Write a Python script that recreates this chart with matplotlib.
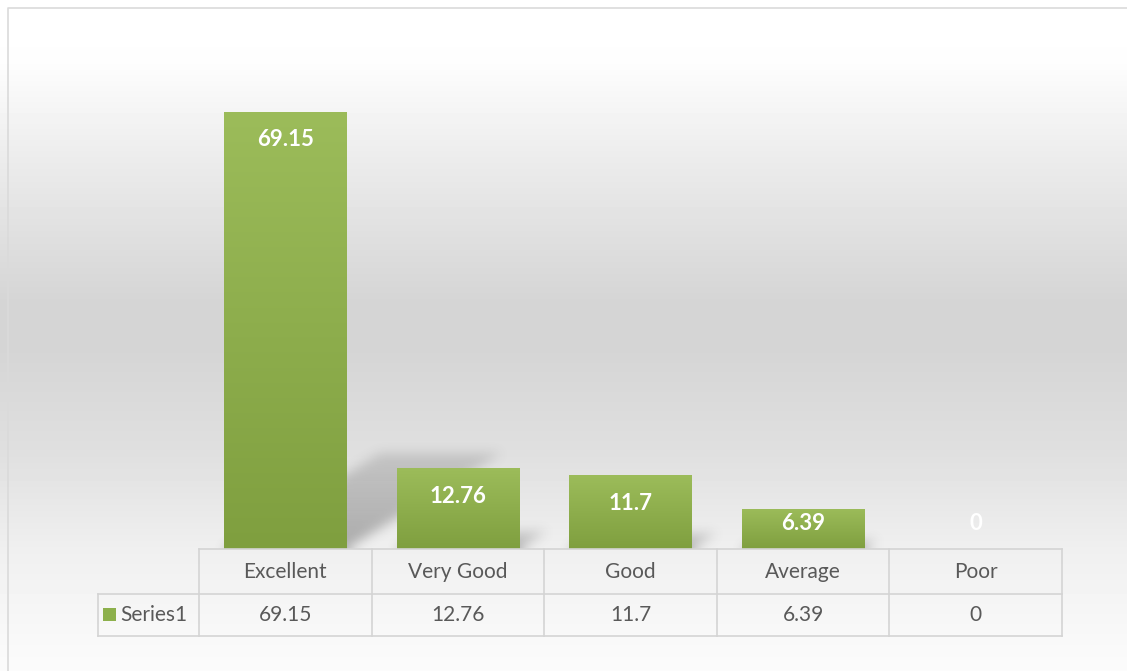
import numpy as np
import matplotlib.pyplot as plt
from matplotlib.colors import LinearSegmentedColormap
from matplotlib.patches import Rectangle
from matplotlib.transforms import blended_transform_factory

categories = ['Excellent', 'Very Good', 'Good', 'Average', 'Poor']
values = [69.15, 12.76, 11.7, 6.39, 0]
series_name = 'Series1'

W, H = 1127, 671
fig = plt.figure(figsize=(W / 100, H / 100), dpi=100)

# -- background gradient (whole figure)
bg = fig.add_axes([0, 0, 1, 1], zorder=0)
bg.set_xlim(0, W)
bg.set_ylim(H, 0)
bg.axis('off')
stops_y = np.array([0, 60, 150, 300, 350, 450, 550, 640, 671])
stops_v = np.array([1.0, 0.995, 0.93, 0.835, 0.835, 0.875, 0.94, 0.975, 0.985])
shade = np.interp(np.arange(H), stops_y, stops_v)
bg.imshow(np.repeat(shade[:, None], 2, axis=1), cmap='gray', vmin=0, vmax=1,
          extent=[0, W, H, 0], aspect='auto')
bg.plot([8, 8, W], [H, 8, 8], color='#dadada', lw=1.2)

# -- main plot area
left, right, base, ppu = 199, 1062, 549, 6.32
ymax = 80
top = base - ymax * ppu
ax = fig.add_axes([left / W, (H - base) / H, (right - left) / W, (base - top) / H], zorder=1)
ax.patch.set_alpha(0)
ax.set_xlim(-0.5, len(categories) - 0.5)
ax.set_ylim(0, ymax)
ax.axis('off')

bar_w = 0.707
col_px = (right - left) / len(categories)
green = LinearSegmentedColormap.from_list('g', ['#7f9f3f', '#9cbc5a'])
grad = np.linspace(0, 1, 256)[:, None]


def box_blur(a, r, axis):
    pad = [(0, 0), (0, 0)]
    pad[axis] = (r + 1, r)
    c = np.cumsum(np.pad(a, pad, mode='edge'), axis=axis)
    n = a.shape[axis]
    hi = np.take(c, np.arange(2 * r + 1, 2 * r + 1 + n), axis=axis)
    lo = np.take(c, np.arange(0, n), axis=axis)
    return (hi - lo) / (2 * r + 1)


# soft perspective shadows, rasterised in axes pixels
pw, ph_px = int(right - left), int(base - top)
xs = np.arange(pw)[None, :] + 0.5
ys = np.arange(ph_px)[:, None] + 0.5   # from baseline upwards
mask = np.zeros((ph_px, pw))
for i, v in enumerate(values):
    if v <= 0:
        continue
    hpx = v * ppu
    sh = 0.22 * hpx
    shift = 0.357 * hpx
    xl = (i + 0.5 - bar_w / 2) * col_px
    xr = (i + 0.5 + bar_w / 2) * col_px
    t = ys / sh
    inside = (t <= 1) & (xs >= xl + t * shift) & (xs <= xr + t * shift)
    mask = np.maximum(mask, inside * (1 - 0.55 * np.clip(t, 0, 1)))
for _ in range(3):
    mask = box_blur(mask, 5, 0)
    mask = box_blur(mask, 5, 1)
shadow = np.zeros((ph_px, pw, 4))
shadow[..., :3] = 0.3
shadow[..., 3] = 0.42 * mask
ax.imshow(shadow, extent=[-0.5, len(categories) - 0.5, 0, ph_px / ppu],
          origin='lower', aspect='auto', zorder=1, interpolation='bilinear')
ax.set_ylim(0, ymax)

for i, v in enumerate(values):
    if v > 0:
        rect = Rectangle((i - bar_w / 2, 0), bar_w, v, facecolor='none', edgecolor='none', zorder=2)
        ax.add_patch(rect)
        im = ax.imshow(grad, cmap=green, extent=[i - bar_w / 2, i + bar_w / 2, 0, v],
                       origin='lower', aspect='auto', zorder=2)
        im.set_clip_path(rect)
    ly = max(v - 28 / ppu, 26 / ppu)
    ax.text(i, ly, f'{v:g}', ha='center', va='center', color='white',
            fontsize=16, fontweight='bold', family='Lato', zorder=3)

# -- data table under the bars
tr = blended_transform_factory(ax.transData, ax.transAxes)
phh = base - top


def fy(px):
    return (base - px) / phh


row1, row2, row3 = 549, 594, 636
line_kw = dict(color='#d4d4d4', lw=1.2, clip_on=False, transform=tr)
x0, x1 = -0.5, len(categories) - 0.5
leg_x = x0 - (left - 98) / col_px
ax.plot([x0, x1], [fy(row1)] * 2, **line_kw)
ax.plot([leg_x, x1], [fy(row2)] * 2, **line_kw)
ax.plot([leg_x, x1], [fy(row3)] * 2, **line_kw)
ax.plot([leg_x, leg_x], [fy(row2), fy(row3)], **line_kw)
for j in range(len(categories) + 1):
    ax.plot([x0 + j] * 2, [fy(row1), fy(row3)], **line_kw)

txt_kw = dict(ha='center', va='center', color='#595959', fontsize=15,
              family='Lato', transform=tr, clip_on=False)
for i, (c, v) in enumerate(zip(categories, values)):
    ax.text(i, fy((row1 + row2) / 2), c, **txt_kw)
    ax.text(i, fy((row2 + row3) / 2), f'{v:g}', **txt_kw)

ax.add_patch(Rectangle((leg_x + 5 / col_px, fy(621)), 13 / col_px, fy(608) - fy(621),
                       facecolor='#8db04c', edgecolor='none', transform=tr, clip_on=False))
ax.text(leg_x + 22 / col_px, fy((row2 + row3) / 2), series_name, ha='left', va='center',
        color='#595959', fontsize=15, family='Lato', transform=tr, clip_on=False)

plt.savefig('out.png', dpi=100)
